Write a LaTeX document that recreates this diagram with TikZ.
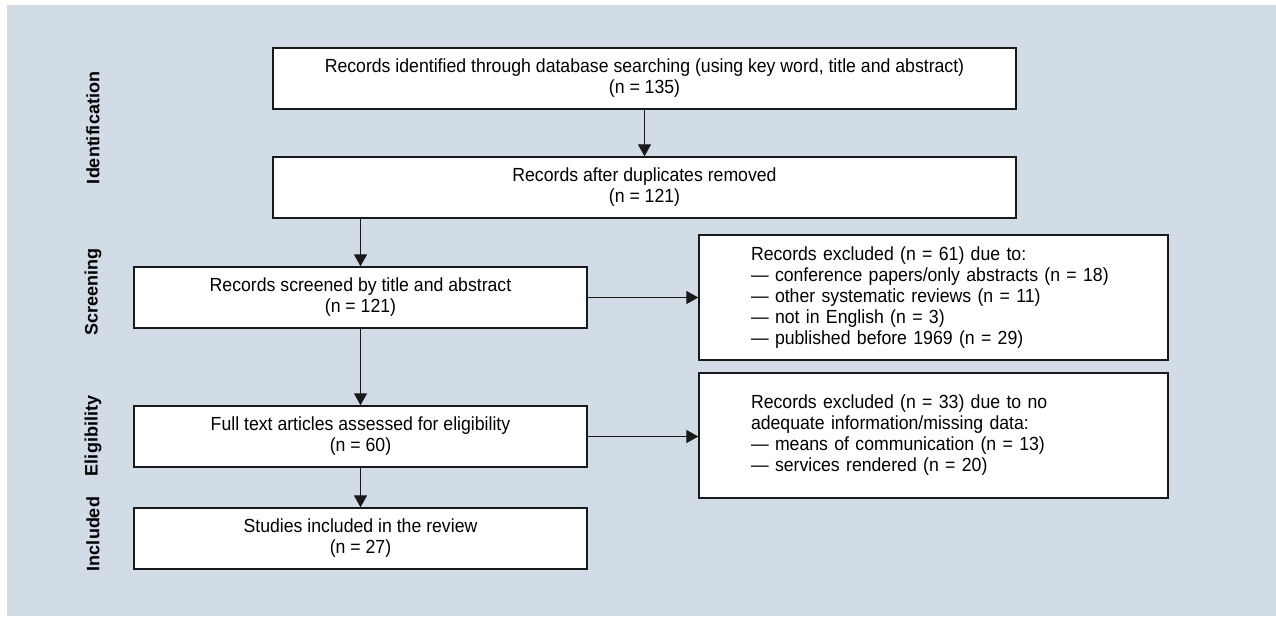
\documentclass[tikz,border=0pt]{standalone}
\usepackage{fontspec}
\setmainfont{Liberation Sans}[FakeStretch=0.93]
\newfontfamily\lblfont{Liberation Sans}
\usetikzlibrary{arrows.meta}
\definecolor{bgc}{RGB}{210,220,230}
\definecolor{edge}{RGB}{25,25,25}
\tikzset{
  box/.style={draw=edge, fill=white, line width=1.4pt, inner sep=0pt, align=center,
    font=\fontsize{19}{21}\selectfont},
  sidebox/.style={draw=edge, fill=white, line width=1.4pt, inner ysep=0pt, inner xsep=52pt,
    align=left, font=\fontsize{19}{21}\selectfont},
  conn/.style={draw=edge, line width=1.3pt, -{Triangle[length=12pt,width=13pt]}},
  phase/.style={rotate=90, font=\lblfont\bfseries\fontsize{18}{20}\selectfont, text=black}
}
\begin{document}
\begin{tikzpicture}[x=1pt,y=-1pt]
\useasboundingbox (0,0) rectangle (1276,616);
\fill[white] (0,0) rectangle (1276,616);
\fill[bgc] (7,5) rectangle (1276,616);

\node[box, minimum width=743pt, minimum height=61pt] (b1) at (644.5,78.5)
  {Records identified through database searching (using key word, title and abstract)\\(n = 135)};
\node[box, minimum width=743pt, minimum height=61pt] (b2) at (644.5,187.5)
  {Records after duplicates removed\\(n = 121)};
\node[box, minimum width=453pt, minimum height=61pt] (b3) at (360.5,297.5)
  {Records screened by title and abstract\\(n = 121)};
\node[box, minimum width=453pt, minimum height=61pt] (b4) at (360.5,436.5)
  {Full text articles assessed for eligibility\\(n = 60)};
\node[box, minimum width=453pt, minimum height=61pt] (b5) at (360.5,538.5)
  {Studies included in the review\\(n = 27)};
\node[sidebox, text width=365pt, minimum height=125pt] (ea) at (933.5,297.5)
  {Records excluded (n = 61) due to:\\
   --- conference papers/only abstracts (n = 18)\\
   --- other systematic reviews (n = 11)\\
   --- not in English (n = 3)\\
   --- published before 1969 (n = 29)};
\node[sidebox, text width=365pt, minimum height=125pt] (eb) at (933.5,435.5)
  {Records excluded (n = 33) due to no\\
   adequate information/missing data:\\
   --- means of communication (n = 13)\\
   --- services rendered (n = 20)};

\node[phase] (p1) at (93,128) {Identification};
\node[phase] (p2) at (93,292) {Screening};
\node[phase] (p3) at (93,436) {Eligibility};
\node[phase] (p4) at (93,534) {Included};

\coordinate (t3) at (b3.north);
\draw[conn] (b1.south) -- (b2.north);
\draw[conn] (b2.south -| t3) -- (t3);
\draw[conn] (b3.south) -- (b4.north);
\draw[conn] (b4.south) -- (b5.north);
\draw[conn] (b3.east) -- (b3.east -| ea.west);
\draw[conn] (b4.east) -- (b4.east -| eb.west);
\end{tikzpicture}
\end{document}
